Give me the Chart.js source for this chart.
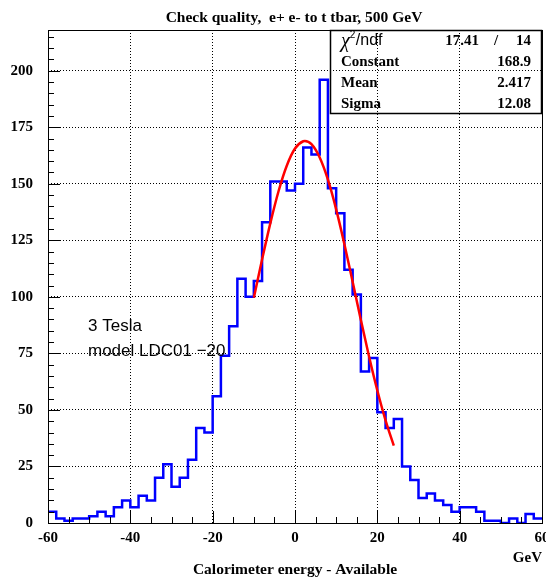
<!DOCTYPE html>
<html><head><meta charset="utf-8">
<style>
html,body{margin:0;padding:0;overflow:hidden;background:#fff;width:546px;height:579px}
#wrap{position:absolute;left:0;top:0;width:570px;height:579px}
</style>
<script src="https://cdn.jsdelivr.net/npm/chart.js@4.4.1/dist/chart.umd.min.js"></script>
</head><body><div id="wrap"><canvas id="c" width="570" height="579"></canvas></div>
<script>
// Histogram: low edges of 2 GeV bins and the counts
const binLowEdges = [-60,-58,-56,-54,-52,-50,-48,-46,-44,-42,-40,-38,-36,-34,-32,-30,-28,-26,-24,-22,
  -20,-18,-16,-14,-12,-10,-8,-6,-4,-2,0,2,4,6,8,10,12,14,16,18,
  20,22,24,26,28,30,32,34,36,38,40,42,44,46,48,50,52,54,56,58];
const histUpperEdge = 60;
const counts = [5,2,1,2,2,3,5,3,7,10,7,12,10,20,26,16,20,28,42,40,
  56,74,87,108,100,107,133,151,151,147,150,166,163,196,148,137,112,101,67,73,
  49,42,46,25,19,11,13,10,8,5,7,7,5,1,1,0,2,0,4,2];
// Red fit curve
const fitX = [-10,-8,-6,-4,-2,0,2,2.4,4,6,8,10,12,14,16,18,20,22,24];
const fitY = [99.6,116.5,132.5,146.7,158.0,165.6,168.8,168.9,167.5,161.6,151.8,138.7,123.3,106.7,89.8,73.5,58.6,45.4,34.2];
// Axes
const xTickValues = [-60,-40,-20,0,20,40,60];
const yTickValues = [0,25,50,75,100,125,150,175,200];
const xRange = [-60, 60];
const yRange = [0, 218];
// Texts
const titleText = 'Check quality,  e+ e- to t tbar, 500 GeV';
const xAxisTitle = 'Calorimeter energy - Available';
const xUnit = 'GeV';
const notes = ['3 Tesla', 'model LDC01 \u221220'];
const chi2Value = '17.41';
const ndfValue = '14';
const statNames = ['Constant', 'Mean', 'Sigma'];
const statValues = ['168.9', '2.417', '12.08'];

const histPoints = binLowEdges.map((x, i) => ({x: x, y: counts[i]}));
histPoints.push({x: histUpperEdge, y: counts[counts.length - 1]});
const fitPoints = fitX.map((x, i) => ({x: x, y: fitY[i]}));

const SERIF = '"Liberation Serif", "Times New Roman", serif';
const SANS = '"Liberation Sans", Arial, sans-serif';

const decor = {
  id: 'decor',
  afterDraw(chart) {
    const ctx = chart.ctx, a = chart.chartArea;
    const xs = chart.scales.x, ys = chart.scales.y;
    ctx.save();
    ctx.strokeStyle = '#000'; ctx.fillStyle = '#000';
    // frame
    ctx.lineWidth = 1;
    ctx.strokeRect(Math.round(a.left) + 0.5, Math.round(a.top) + 0.5, Math.round(a.right - a.left), Math.round(a.bottom - a.top));
    // ticks (inside)
    ctx.beginPath();
    for (let v = xRange[0]; v <= xRange[1]; v += 5) {
      const px = Math.round(xs.getPixelForValue(v)) + 0.5;
      const len = (v % 20 === 0) ? 12 : 6;
      ctx.moveTo(px, a.bottom); ctx.lineTo(px, a.bottom - len);
    }
    for (let v = 0; v <= yRange[1]; v += 5) {
      const py = Math.round(ys.getPixelForValue(v)) + 0.5;
      const len = (v % 25 === 0) ? 12 : 6;
      ctx.moveTo(a.left, py); ctx.lineTo(a.left + len, py);
    }
    ctx.stroke();
    // title
    ctx.textBaseline = 'middle';
    ctx.textAlign = 'center';
    ctx.font = 'bold 15.5px ' + SERIF;
    ctx.fillText(titleText, 294, 18);
    // axis title and unit
    ctx.font = 'bold 15.5px ' + SERIF;
    ctx.fillText(xAxisTitle, (a.left + a.right) / 2, 570);
    ctx.font = 'bold 15px ' + SERIF;
    ctx.textAlign = 'right';
    ctx.fillText(xUnit, a.right, 558);
    // stats box
    ctx.lineWidth = 1.5;
    ctx.strokeRect(330.5, 30.5, 211, 83);
    const rowY = [41, 62.5, 83.5, 104];
    ctx.textAlign = 'left';
    ctx.font = 'italic 20px ' + SERIF;
    ctx.fillText('\u03c7', 341, rowY[0] + 1);
    let w = ctx.measureText('\u03c7').width;
    ctx.font = '10px ' + SANS;
    ctx.fillText('2', 341 + w, rowY[0] - 6);
    ctx.font = '16px ' + SANS;
    ctx.fillText('/ndf', 341 + w + 6, rowY[0]);
    ctx.font = 'bold 15px ' + SERIF;
    ctx.textAlign = 'right';
    ctx.fillText(chi2Value, 479, rowY[0]);
    ctx.textAlign = 'center';
    ctx.fillText('/', 496, rowY[0]);
    ctx.textAlign = 'right';
    ctx.fillText(ndfValue, 531, rowY[0]);
    for (let i = 0; i < statNames.length; i++) {
      ctx.textAlign = 'left';
      ctx.fillText(statNames[i], 341, rowY[i + 1]);
      ctx.textAlign = 'right';
      ctx.fillText(statValues[i], 531, rowY[i + 1]);
    }
    // notes
    ctx.textAlign = 'left';
    ctx.font = '17px ' + SANS;
    ctx.fillText(notes[0], 88, 326);
    ctx.fillText(notes[1], 88, 351);
    ctx.restore();
  }
};

new Chart(document.getElementById('c'), {
  type: 'line',
  data: {
    datasets: [
      {label: 'hist', data: histPoints, stepped: 'before', borderColor: '#0000ff', borderWidth: 2.5,
       pointRadius: 0, fill: false, order: 2},
      {label: 'fit', data: fitPoints, borderColor: '#ff0000', borderWidth: 2.5, pointRadius: 0,
       cubicInterpolationMode: 'monotone', fill: false, order: 1}
    ]
  },
  options: {
    responsive: false, animation: false, devicePixelRatio: 1,
    layout: {padding: {left: 0, right: 28, top: 30, bottom: 0}},
    plugins: {legend: {display: false}, tooltip: {enabled: false}, title: {display: false}},
    scales: {
      x: {
        type: 'linear', min: xRange[0], max: xRange[1],
        afterBuildTicks: s => { s.ticks = xTickValues.map(v => ({value: v})); },
        afterFit: s => { s.height = 56; },
        grid: {color: '#000', lineWidth: 1, drawTicks: false},
        border: {display: false, dash: [1, 2]},
        ticks: {color: '#000', padding: 6, maxRotation: 0, autoSkip: false,
                font: {family: SERIF, size: 15, weight: 'bold'}}
      },
      y: {
        type: 'linear', min: yRange[0], max: yRange[1],
        afterBuildTicks: s => { s.ticks = yTickValues.map(v => ({value: v})); },
        afterFit: s => { s.width = 48; },
        grid: {color: '#000', lineWidth: 1, drawTicks: false},
        border: {display: false, dash: [1, 2]},
        ticks: {color: '#000', padding: 15, font: {family: SERIF, size: 15, weight: 'bold'}}
      }
    }
  },
  plugins: [decor]
});
</script></body></html>
